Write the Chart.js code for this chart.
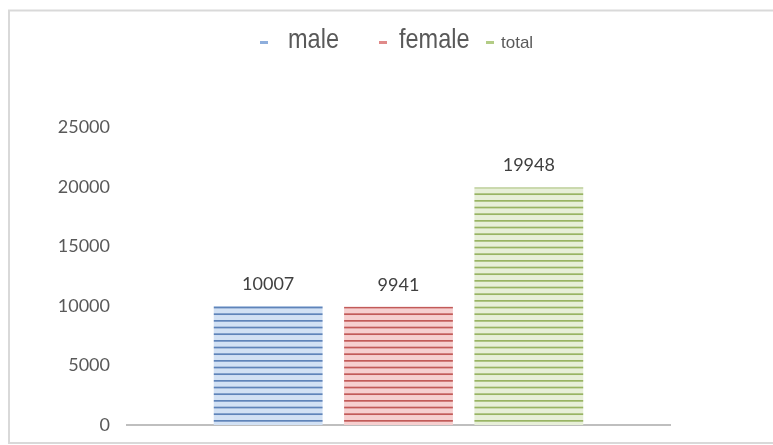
<!DOCTYPE html>
<html>
<head>
<meta charset="utf-8">
<script src="https://cdn.jsdelivr.net/npm/chart.js@4.4.1/dist/chart.umd.min.js"></script>
<style>
html,body{margin:0;padding:0;background:#fff;}
#wrap{position:relative;width:773px;height:445px;}
</style>
</head>
<body>
<div id="wrap"><canvas id="c" width="773" height="445"></canvas></div>
<script>
const categories = [''];
const seriesLabels = ['male', 'female', 'total'];
const maleValues = [10007];
const femaleValues = [9941];
const totalValues = [19948];
const yTicks = [0, 5000, 10000, 15000, 20000, 25000];

function stripes(fill, line) {
  const c = document.createElement('canvas');
  c.width = 20; c.height = 20;
  const g = c.getContext('2d');
  g.fillStyle = fill; g.fillRect(0, 0, 20, 20);
  g.fillStyle = line;
  [0, 6.67, 13.33].forEach(y => g.fillRect(0, y, 20, 1.7));
  return g.createPattern(c, 'repeat');
}
const fills = [
  stripes('#d2e1f4', '#5f84b9'),
  stripes('#f6cfcf', '#c25a58'),
  stripes('#e7efd8', '#98b463')
];
const markerColors = ['#8eaedc', '#e08a89', '#b3cc85'];
const legendItems = [
  {x: 260, tx: 288, size: 28, sx: 0.84, w: 8},
  {x: 379, tx: 399, size: 28, sx: 0.84, w: 8},
  {x: 486, tx: 501, size: 17, sx: 1.0, w: 8}
];

const framePlugin = {
  id: 'frame',
  beforeDraw(chart) {
    const ctx = chart.ctx;
    ctx.save();
    ctx.fillStyle = '#fff';
    ctx.fillRect(0, 0, chart.width, chart.height);
    ctx.strokeStyle = '#d9d9d9';
    ctx.lineWidth = 2;
    ctx.strokeRect(9, 10.5, 800, 432.5);
    ctx.restore();
  }
};

const legendPlugin = {
  id: 'customLegend',
  afterDraw(chart) {
    const ctx = chart.ctx;
    chart.data.datasets.forEach((ds, i) => {
      const it = legendItems[i];
      ctx.save();
      ctx.fillStyle = markerColors[i];
      ctx.fillRect(it.x, 41, it.w, 3);
      ctx.font = it.size + 'px "Liberation Sans", Arial, sans-serif';
      ctx.fillStyle = '#595959';
      ctx.textBaseline = 'alphabetic';
      ctx.textAlign = 'left';
      ctx.translate(it.tx, 48);
      ctx.scale(it.sx, 1);
      ctx.fillText(ds.label, 0, 0);
      ctx.restore();
    });
  }
};

const valueLabelPlugin = {
  id: 'valueLabels',
  afterDatasetsDraw(chart) {
    const ctx = chart.ctx;
    ctx.save();
    ctx.font = '18px Lato, "Noto Sans", sans-serif';
    ctx.fillStyle = '#404040';
    ctx.textAlign = 'center';
    ctx.textBaseline = 'middle';
    chart.data.datasets.forEach((ds, i) => {
      const meta = chart.getDatasetMeta(i);
      meta.data.forEach((bar, j) => {
        ctx.fillText(String(ds.data[j]), bar.x, bar.y - 22);
      });
    });
    ctx.restore();
  }
};

new Chart(document.getElementById('c'), {
  type: 'bar',
  data: {
    labels: categories,
    datasets: [
      {label: seriesLabels[0], data: maleValues, backgroundColor: fills[0]},
      {label: seriesLabels[1], data: femaleValues, backgroundColor: fills[1]},
      {label: seriesLabels[2], data: totalValues, backgroundColor: fills[2]}
    ]
  },
  options: {
    responsive: false,
    animation: false,
    devicePixelRatio: 1,
    categoryPercentage: 0.72,
    barPercentage: 0.835,
    layout: {padding: {left: 0, top: 127.5, right: 103, bottom: 20}},
    plugins: {legend: {display: false}, tooltip: {enabled: false}},
    scales: {
      x: {
        grid: {display: false, drawTicks: false},
        ticks: {display: false},
        border: {display: true, color: '#bfbfbf', width: 2},
        afterFit(s) { s.height = 0; }
      },
      y: {
        min: 0, max: 25000,
        afterBuildTicks(s) { s.ticks = yTicks.map(v => ({value: v})); },
        grid: {display: false, drawTicks: false},
        border: {display: false},
        ticks: {padding: 17, color: '#595959', font: {family: 'Lato, "Noto Sans", sans-serif', size: 18},
                callback: v => String(v)},
        afterFit(s) { s.width = 127; s.paddingTop = 0; s.paddingBottom = 0; }
      }
    }
  },
  plugins: [framePlugin, legendPlugin, valueLabelPlugin]
});
</script>
</body>
</html>
